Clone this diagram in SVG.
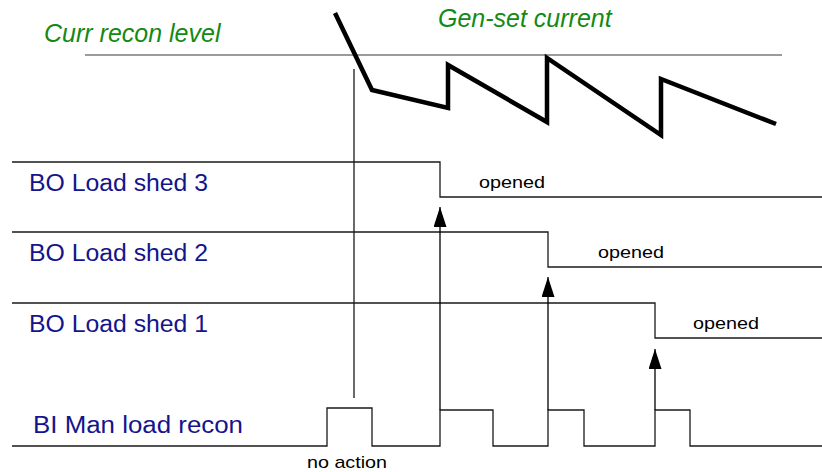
<svg xmlns="http://www.w3.org/2000/svg" width="822" height="472" viewBox="0 0 822 472">
  <style>
    .lbl { font-family: "Liberation Sans", Arial, sans-serif; font-size: 23px; fill: #14148c; }
    .note { font-family: "Liberation Sans", Arial, sans-serif; font-size: 17px; fill: #000; }
    .title { font-family: "Liberation Sans", Arial, sans-serif; font-size: 25px; font-style: italic; fill: #138a13; }
    .sig { fill: none; stroke: #1a1a1a; stroke-width: 1.3; }
    .lvl { fill: none; stroke: #7a7a7a; stroke-width: 1.5; }
    .cur { fill: none; stroke: #000; stroke-width: 4.5; stroke-linejoin: miter; }
    .arr { fill: none; stroke: #000; stroke-width: 1.3; marker-end: url(#head); }
  </style>
  <defs>
    <marker id="head" markerUnits="userSpaceOnUse" markerWidth="20" markerHeight="13" refX="20" refY="6.5" orient="auto" viewBox="0 0 20 13">
      <path d="M0,0 L20,6.5 L0,13 Z" fill="#000"/>
    </marker>
  </defs>

  <rect width="822" height="472" fill="#fff"/>

  <!-- current level and gen-set current trace -->
  <g id="current">
    <text class="title" x="44" y="42">Curr recon level</text>
    <text class="title" x="438" y="27">Gen-set current</text>
    <line class="lvl" x1="85" y1="55" x2="782" y2="55"/>
    <polyline class="cur" points="335,13 372,90 448,108 448,65 547,122 547,58 661,135 661,79 776,124"/>
  </g>

  <!-- output signals -->
  <g id="bo3">
    <text class="lbl" x="29" y="191" textLength="179" lengthAdjust="spacingAndGlyphs">BO Load shed 3</text>
    <polyline class="sig" points="12,162 440,162 440,197 822,197"/>
    <text class="note" x="479" y="188" textLength="66" lengthAdjust="spacingAndGlyphs">opened</text>
  </g>
  <g id="bo2">
    <text class="lbl" x="29" y="261" textLength="179" lengthAdjust="spacingAndGlyphs">BO Load shed 2</text>
    <polyline class="sig" points="12,232 548,232 548,267 822,267"/>
    <text class="note" x="598" y="258" textLength="66" lengthAdjust="spacingAndGlyphs">opened</text>
  </g>
  <g id="bo1">
    <text class="lbl" x="29" y="332" textLength="179" lengthAdjust="spacingAndGlyphs">BO Load shed 1</text>
    <polyline class="sig" points="12,303 655,303 655,338 822,338"/>
    <text class="note" x="693" y="329" textLength="66" lengthAdjust="spacingAndGlyphs">opened</text>
  </g>

  <!-- input signal -->
  <g id="bi">
    <text class="lbl" x="33" y="433" textLength="210" lengthAdjust="spacingAndGlyphs">BI Man load recon</text>
    <polyline class="sig" points="12,446 327,446 327,408 372,408 372,446 440,446 440,410 493,410 493,446 548,446 548,410 584,410 584,446 655,446 655,410 690,410 690,446 822,446"/>
    <text class="note" x="307" y="468" textLength="80" lengthAdjust="spacingAndGlyphs">no action</text>
  </g>

  <!-- connectors -->
  <g id="connectors">
    <line class="sig" x1="354" y1="69" x2="354" y2="398"/>
    <line class="arr" x1="440" y1="410" x2="440" y2="207"/>
    <line class="arr" x1="548" y1="410" x2="548" y2="277"/>
    <line class="arr" x1="655" y1="410" x2="655" y2="349"/>
  </g>
</svg>
